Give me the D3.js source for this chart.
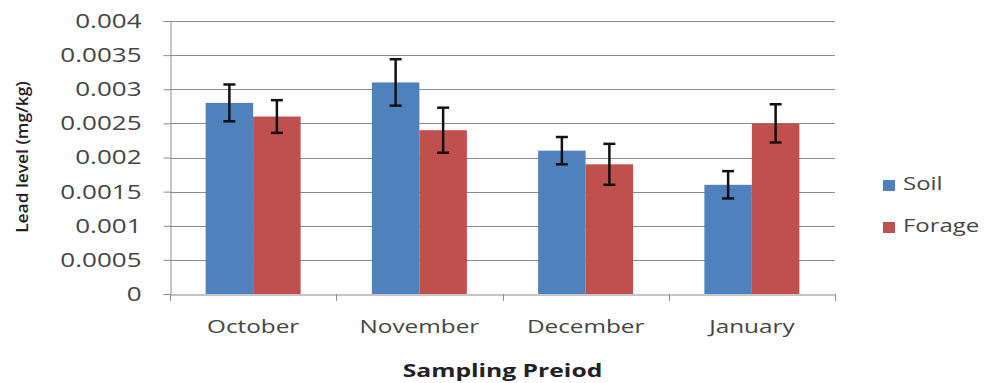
<!DOCTYPE html>
<html><head><meta charset="utf-8">
<script src="https://cdn.jsdelivr.net/npm/d3@7"></script>
<style>body{margin:0;background:#fff}svg{display:block}</style>
</head><body>
<svg id="c" width="987" height="383"></svg>
<script>
const categories = ["October","November","December","January"];
const seriesNames = ["Soil","Forage"];
const soil = [0.0028,0.0031,0.0021,0.0016];
const forage = [0.0026,0.0024,0.0019,0.0025];
const soilErr = [0.00027,0.00034,0.0002,0.0002];
const forageErr = [0.00024,0.00033,0.0003,0.00028];
const yTicks = [0,0.0005,0.001,0.0015,0.002,0.0025,0.003,0.0035,0.004];
const yTickLabels = ["0","0.0005","0.001","0.0015","0.002","0.0025","0.003","0.0035","0.004"];
const colors = ["#4F81BD","#C0504D"];

const FONT = "'Open Sans', sans-serif";
function stretch(sel, f){
  sel.each(function(){
    const n = this.getComputedTextLength();
    d3.select(this).attr("textLength", n*f).attr("lengthAdjust","spacingAndGlyphs");
  });
}

const svg = d3.select("#c");
const L=170,R=835,T=21,B=294;
const x = d3.scaleBand().domain(categories).range([L,R]).paddingInner(0).paddingOuter(0);
const inner = d3.scaleBand().domain(seriesNames).range([0,x.bandwidth()]).paddingOuter(0.75).paddingInner(0);
const y = d3.scaleLinear().domain([0,0.004]).range([B,T]);

// gridlines
svg.append("g").selectAll("line").data(yTicks.slice(1)).join("line")
  .attr("x1",L).attr("x2",R).attr("y1",d=>Math.round(y(d))+0.5).attr("y2",d=>Math.round(y(d))+0.5)
  .attr("stroke","#8c8c8c").attr("stroke-width",1);

// y axis
const ya = svg.append("g").attr("transform",`translate(${L+0.5},0)`)
  .call(d3.axisLeft(y).tickValues(yTicks).tickFormat((d,i)=>yTickLabels[i]).tickSize(7).tickPadding(22));
ya.select(".domain").attr("stroke","#8c8c8c");
ya.selectAll(".tick line").attr("stroke","#8c8c8c");
ya.selectAll("text").attr("font-family",FONT).attr("font-size",20).attr("fill","#454545").call(stretch,1.3);

// bars
const data = categories.map((c,i)=>({c, vals:[{s:"Soil",v:soil[i],e:soilErr[i]},{s:"Forage",v:forage[i],e:forageErr[i]}]}));
const g = svg.append("g").selectAll("g").data(data).join("g").attr("transform",d=>`translate(${x(d.c)},0)`);
g.selectAll("rect").data(d=>d.vals).join("rect")
  .attr("x",d=>inner(d.s)).attr("width",inner.bandwidth())
  .attr("y",d=>y(d.v)).attr("height",d=>y(0)-y(d.v))
  .attr("fill",(d,i)=>colors[i]);
// error bars
const eb = g.selectAll("g.eb").data(d=>d.vals).join("g").attr("class","eb");
eb.append("line").attr("x1",d=>inner(d.s)+inner.bandwidth()/2).attr("x2",d=>inner(d.s)+inner.bandwidth()/2)
  .attr("y1",d=>y(d.v+d.e)).attr("y2",d=>y(d.v-d.e)).attr("stroke","#111").attr("stroke-width",2.5);
[1,-1].forEach(sg=>{
  eb.append("line").attr("x1",d=>inner(d.s)+inner.bandwidth()/2-6).attr("x2",d=>inner(d.s)+inner.bandwidth()/2+6)
    .attr("y1",d=>y(d.v+sg*d.e)).attr("y2",d=>y(d.v+sg*d.e)).attr("stroke","#111").attr("stroke-width",2.5);
});

// x axis
const xa = svg.append("g").attr("transform",`translate(0,${B+0.5})`)
  .call(d3.axisBottom(x).tickSize(0).tickPadding(26));
xa.select(".domain").attr("stroke","#8c8c8c");
xa.selectAll("text").attr("font-family",FONT).attr("font-size",18).attr("fill","#454545").call(stretch,1.35);
svg.append("g").selectAll("line").data(d3.range(categories.length+1)).join("line")
  .attr("x1",i=>Math.round(L+i*x.bandwidth())+0.5).attr("x2",i=>Math.round(L+i*x.bandwidth())+0.5)
  .attr("y1",B).attr("y2",B+7).attr("stroke","#8c8c8c");

// axis titles
svg.append("text").attr("transform","translate(28,157) rotate(-90)").attr("text-anchor","middle")
  .attr("font-family",FONT).attr("font-size",17).attr("font-weight",600).attr("fill","#222")
  .text("Lead level (mg/kg)").call(stretch,1.02);
svg.append("text").attr("x",(L+R)/2).attr("y",377).attr("text-anchor","middle")
  .attr("font-family",FONT).attr("font-size",18).attr("font-weight","bold").attr("fill","#222")
  .text("Sampling Preiod").call(stretch,1.37);

// legend
const lg = svg.append("g").selectAll("g").data(seriesNames).join("g").attr("transform",(d,i)=>`translate(883,${190+i*42})`);
lg.append("rect").attr("x",0).attr("y",-10).attr("width",12).attr("height",11).attr("fill",(d,i)=>colors[i]);
lg.append("text").attr("x",20).attr("y",0).attr("font-family",FONT).attr("font-size",18).attr("fill","#454545").text(d=>d).call(stretch,1.33);
</script>
</body></html>
